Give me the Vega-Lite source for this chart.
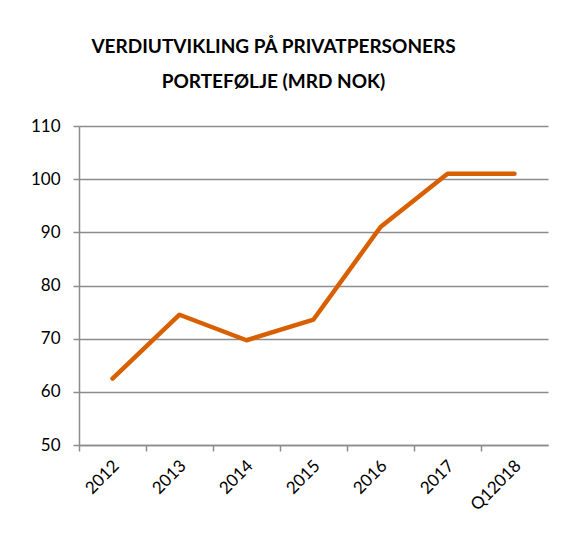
{
  "$schema": "https://vega.github.io/schema/vega-lite/v6.json",
  "autosize": {"type": "none"},
  "width": 469,
  "height": 319,
  "padding": {"left": 79, "top": 126, "right": 31, "bottom": 91},
  "background": "white",
  "title": {
    "text": ["VERDIUTVIKLING PÅ PRIVATPERSONERS", "PORTEFØLJE (MRD NOK)"],
    "anchor": "middle",
    "frame": "group",
    "dx": -40,
    "offset": 25,
    "font": "Lato",
    "fontSize": 19,
    "fontWeight": "bold",
    "color": "black",
    "lineHeight": 35
  },
  "data": {
    "values": [
      {"period": "2012", "value": 62.5},
      {"period": "2013", "value": 74.5},
      {"period": "2014", "value": 69.7},
      {"period": "2015", "value": 73.6},
      {"period": "2016", "value": 91.0},
      {"period": "2017", "value": 101.0},
      {"period": "Q12018", "value": 101.0}
    ]
  },
  "mark": {"type": "line", "color": "#D86000", "strokeWidth": 4.5, "strokeCap": "round", "strokeJoin": "round"},
  "encoding": {
    "x": {
      "field": "period",
      "type": "ordinal",
      "sort": null,
      "scale": {"type": "band", "paddingInner": 0, "paddingOuter": 0},
      "axis": {
        "title": null,
        "labelAngle": -45,
        "labelAlign": "right",
        "labelBaseline": "middle",
        "labelFont": "Lato",
        "labelFontSize": 17,
        "labelColor": "black",
        "labelPadding": 12,
        "labelOffset": 4,
        "bandPosition": 0,
        "tickSize": 6,
        "tickColor": "#8c8c8c",
        "domainColor": "#8c8c8c",
        "domainWidth": 1.5,
        "tickWidth": 1.5,
        "grid": false
      }
    },
    "y": {
      "field": "value",
      "type": "quantitative",
      "scale": {"domain": [50, 110], "nice": false, "zero": false},
      "axis": {
        "title": null,
        "values": [50, 60, 70, 80, 90, 100, 110],
        "labelFont": "Lato",
        "labelFontSize": 17,
        "labelColor": "black",
        "labelPadding": 13,
        "tickSize": 6,
        "tickColor": "#8c8c8c",
        "tickWidth": 1.5,
        "domainColor": "#8c8c8c",
        "domainWidth": 1.5,
        "grid": true,
        "gridColor": "#8c8c8c",
        "gridWidth": 1.5,
        "gridOpacity": 1
      }
    }
  },
  "config": {"view": {"stroke": null}}
}
